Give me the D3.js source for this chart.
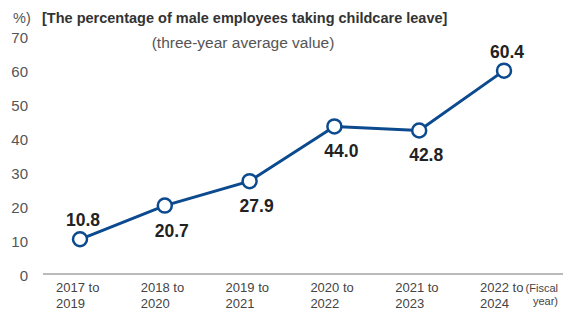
<!DOCTYPE html>
<html>
<head>
<meta charset="utf-8">
<script src="https://cdn.jsdelivr.net/npm/d3@7"></script>
<style>
  body { margin: 0; background: #fff; }
  svg { display: block; font-family: "Liberation Sans", Arial, Helvetica, sans-serif; }
</style>
</head>
<body>
<svg id="chart"></svg>
<script>
// Chart data
const periods = [["2017 to", "2019"], ["2018 to", "2020"], ["2019 to", "2021"],
                 ["2020 to", "2022"], ["2021 to", "2023"], ["2022 to", "2024"]];
const rates = [10.8, 20.7, 27.9, 44.0, 42.8, 60.4];
const labelAbove = [true, false, false, false, false, true];
const yTicks = [0, 10, 20, 30, 40, 50, 60, 70];

const width = 585, height = 320;
const blue = '#0b4a8e';

const svg = d3.select('#chart')
    .attr('width', width)
    .attr('height', height);

const x = d3.scalePoint()
    .domain(d3.range(periods.length))
    .range([80, 504]);

const y = d3.scaleLinear()
    .domain([0, 70])
    .range([276, 38]);

// Y tick labels (no axis line)
svg.append('g')
    .selectAll('text')
    .data(yTicks)
    .enter()
    .append('text')
    .attr('x', 28)
    .attr('y', d => y(d) + 5)
    .attr('text-anchor', 'end')
    .attr('font-size', 15)
    .attr('fill', '#555')
    .text(d => d);

// Baseline
svg.append('line')
    .attr('x1', 43).attr('x2', 563)
    .attr('y1', 274).attr('y2', 274)
    .attr('stroke', '#777')
    .attr('stroke-width', 1);

// X labels
const xl = svg.append('g')
    .selectAll('text')
    .data(periods)
    .enter()
    .append('text')
    .attr('font-size', 13)
    .attr('fill', '#444');
xl.append('tspan')
    .attr('x', (d, i) => x(i) - 24)
    .attr('y', 292)
    .text(d => d[0]);
xl.append('tspan')
    .attr('x', (d, i) => x(i) - 24)
    .attr('y', 308)
    .text(d => d[1]);

// Fiscal year note
const fy = svg.append('text')
    .attr('font-size', 11)
    .attr('fill', '#444')
    .attr('text-anchor', 'end')
    .style('font-family', '"Liberation Sans Narrow", "Arial Narrow", sans-serif');
fy.append('tspan').attr('x', 558).attr('y', 292).text('(Fiscal');
fy.append('tspan').attr('x', 558).attr('y', 305).text('year)');

// Titles
svg.append('text')
    .attr('x', 13).attr('y', 23)
    .attr('font-size', 14.5)
    .attr('fill', '#555')
    .text('%)');
svg.append('text')
    .attr('x', 42).attr('y', 23)
    .attr('font-size', 14.5)
    .attr('font-weight', 'bold')
    .attr('fill', '#333')
    .text('[The percentage of male employees taking childcare leave]');
svg.append('text')
    .attr('x', 243).attr('y', 48)
    .attr('text-anchor', 'middle')
    .attr('font-size', 15.5)
    .attr('fill', '#555')
    .text('(three-year average value)');

// Line
const line = d3.line()
    .x((d, i) => x(i))
    .y(d => y(d));

svg.append('path')
    .datum(rates)
    .attr('d', line)
    .attr('fill', 'none')
    .attr('stroke', blue)
    .attr('stroke-width', 3);

// Markers
svg.append('g')
    .selectAll('circle')
    .data(rates)
    .enter()
    .append('circle')
    .attr('cx', (d, i) => x(i))
    .attr('cy', d => y(d))
    .attr('r', 7)
    .attr('fill', '#fff')
    .attr('stroke', blue)
    .attr('stroke-width', 2.5);

// Value labels
svg.append('g')
    .selectAll('text')
    .data(rates)
    .enter()
    .append('text')
    .attr('x', (d, i) => x(i) + (labelAbove[i] ? 3 : 7))
    .attr('y', (d, i) => y(d) + (labelAbove[i] ? -13 : 31))
    .attr('text-anchor', 'middle')
    .attr('font-size', 17.5)
    .attr('font-weight', 'bold')
    .attr('fill', '#222')
    .text(d => d.toFixed(1));
</script>
</body>
</html>
